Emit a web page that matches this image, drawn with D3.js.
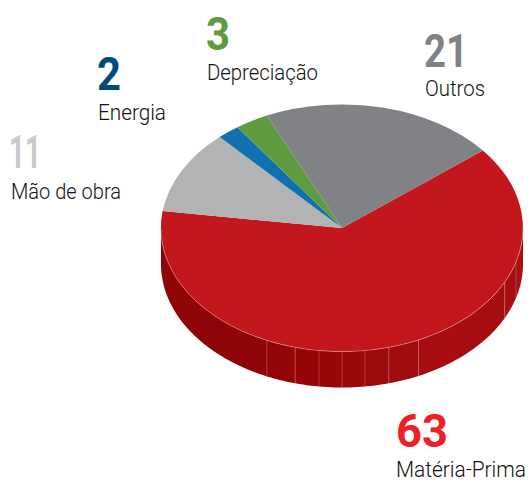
<!DOCTYPE html>
<html>
<head>
<meta charset="utf-8">
<script src="https://cdnjs.cloudflare.com/ajax/libs/d3/7.8.5/d3.min.js"></script>
<style>
  html, body { margin: 0; padding: 0; background: #fff; }
  svg { display: block; }
  .num { font-family: Roboto, sans-serif; font-weight: 700; font-size: 47px; }
  .lbl { font-family: Roboto, sans-serif; font-weight: 300; font-size: 22px; fill: #111; }
</style>
</head>
<body>
<div id="chart"></div>
<script>
const categories = ['Matéria-Prima', 'Mão de obra', 'Energia', 'Depreciação', 'Outros'];
const values = [63, 11, 2, 3, 21];
const sliceColors = ['#c4171d', '#b1b3b5', '#1070b0', '#5f9c3f', '#808285'];
const numColors = ['#ee2027', '#c8cacb', '#004a7c', '#5f9c3f', '#808285'];
// where the text sits: [x of number, baseline of number, x of label, baseline of label]
const labelPos = [[396, 447, 396, 477], [9, 168, 11, 199], [97, 90, 98, 120], [206, 50, 207, 80], [424, 67, 425, 96]];
const numWidths = [52, 32, 24, 24, 44];
const labelWidths = [130, 110, 68, 111, 60];
// seams on the wall, degrees clockwise from the top of the pie
const wallSeams = [90, 106, 116, 155, 165, 172.7, 180, 187.3, 195, 204.5, 270];
const wallColors = ['#a90f13', '#a70e12', '#a50d11', '#a00b0e', '#9d0a0c', '#9a090b', '#970709', '#960608', '#940507', '#8f0406'];

const W = 528, H = 480;
const CX = 342, CY = 228, RX = 181, RY = 123.5, DEPTH = 36;
const START = 51.1 * Math.PI / 180;

const svg = d3.select('#chart').append('svg')
  .attr('width', W).attr('height', H)
  .attr('viewBox', `0 0 ${W} ${H}`);

const pie = d3.pie().sort(null).value(d => d).startAngle(START).endAngle(START + 2 * Math.PI);
const arcs = pie(values);

// ellipse coordinates for an angle measured clockwise from the top
const px = a => CX + RX * Math.sin(a);
const py = a => CY - RY * Math.cos(a);
const rad = d3.scaleLinear().domain([0, 360]).range([0, 2 * Math.PI]);

function wallPath(a0, a1) {
  const p = d3.path();
  const n = Math.max(2, Math.ceil(Math.abs(a1 - a0) * 40));
  p.moveTo(px(a0), py(a0));
  for (let i = 1; i <= n; i++) { const a = a0 + (a1 - a0) * i / n; p.lineTo(px(a), py(a)); }
  for (let i = n; i >= 0; i--) { const a = a0 + (a1 - a0) * i / n; p.lineTo(px(a), py(a) + DEPTH); }
  p.closePath();
  return p.toString();
}

svg.append('g').selectAll('path')
  .data(wallColors)
  .enter().append('path')
  .attr('d', (d, i) => wallPath(rad(wallSeams[i]), rad(wallSeams[i + 1])))
  .attr('fill', d => d);

svg.append('g').selectAll('line')
  .data(wallSeams.slice(1, -1))
  .enter().append('line')
  .attr('x1', d => px(rad(d))).attr('x2', d => px(rad(d)))
  .attr('y1', d => py(rad(d))).attr('y2', d => py(rad(d)) + DEPTH)
  .attr('stroke', '#d98a8a').attr('stroke-opacity', 0.55).attr('stroke-width', 0.7);

// top face: unit arc stretched into an ellipse
const arc = d3.arc().innerRadius(0).outerRadius(1);
svg.append('g')
  .attr('transform', `translate(${CX},${CY}) scale(${RX},${RY})`)
  .selectAll('path')
  .data(arcs)
  .enter().append('path')
  .attr('d', arc)
  .attr('fill', (d, i) => sliceColors[i]);

// thin light rim between top face and wall
const rim = d3.path();
d3.range(90, 271, 2).forEach((d, i) => {
  const a = rad(d);
  if (i === 0) rim.moveTo(px(a), py(a)); else rim.lineTo(px(a), py(a));
});
svg.append('path').attr('d', rim.toString()).attr('fill', 'none')
  .attr('stroke', '#e9a5a5').attr('stroke-opacity', 0.8).attr('stroke-width', 0.6);

const txt = svg.append('g');
categories.forEach((c, i) => {
  const [xn, yn, xl, yl] = labelPos[i];
  txt.append('text').attr('class', 'num').attr('x', xn).attr('y', yn)
    .attr('fill', numColors[i])
    .attr('textLength', numWidths[i]).attr('lengthAdjust', 'spacingAndGlyphs')
    .text(values[i]);
  txt.append('text').attr('class', 'lbl').attr('x', xl).attr('y', yl)
    .attr('textLength', labelWidths[i]).attr('lengthAdjust', 'spacingAndGlyphs').text(c);
});
</script>
</body>
</html>
